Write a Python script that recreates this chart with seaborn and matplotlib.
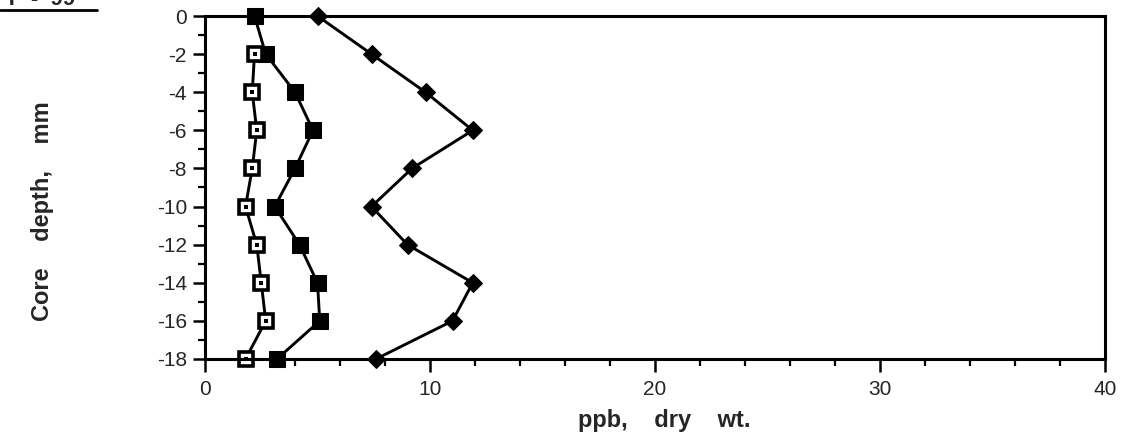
import numpy as np
import pandas as pd
import matplotlib
matplotlib.use("Agg")
import matplotlib.pyplot as plt
from matplotlib.ticker import MultipleLocator
import seaborn as sns

# Core depth (mm) and concentrations (ppb, dry wt.)
depth = [0, -2, -4, -6, -8, -10, -12, -14, -16, -18]
depth_open = [-2, -4, -6, -8, -10, -12, -14, -16, -18]
open_sq = [2.2, 2.1, 2.3, 2.1, 1.8, 2.3, 2.5, 2.7, 1.8]
filled_sq = [2.2, 2.7, 4.0, 4.8, 4.0, 3.1, 4.2, 5.0, 5.1, 3.2]
diamond = [5.0, 7.4, 9.8, 11.9, 9.2, 7.4, 9.0, 11.9, 11.0, 7.6]

sns.set_style("white")
plt.rcParams['font.family'] = ['Liberation Sans', 'DejaVu Sans']
plt.rcParams['axes.unicode_minus'] = False

fig = plt.figure(figsize=(11.31, 4.38), dpi=100)
ax = fig.add_axes([205 / 1131, 1 - 359 / 438, 900 / 1131, 343 / 438])

lw = 2.1
sns.lineplot(x=diamond, y=depth, orient="y", sort=False, color="black",
             lw=lw, marker="D", markersize=9.5, markeredgecolor="black", ax=ax)
sns.lineplot(x=filled_sq, y=depth, orient="y", sort=False, color="black",
             lw=lw, marker="s", markersize=11, markeredgecolor="black", ax=ax)
sns.lineplot(x=open_sq, y=depth_open, orient="y", sort=False, color="black",
             lw=lw, marker="s", markersize=10, markerfacecolor="white",
             markeredgecolor="black", markeredgewidth=2.6, ax=ax)
# little dot inside the open squares
sns.scatterplot(x=open_sq, y=depth_open, marker="s", s=5, color="black",
                linewidth=0, ax=ax, zorder=5)

ax.set_xlim(0, 40)
ax.set_ylim(-18, 0)
ax.xaxis.set_major_locator(MultipleLocator(10))
ax.xaxis.set_minor_locator(MultipleLocator(2))
ax.yaxis.set_major_locator(MultipleLocator(2))
ax.yaxis.set_minor_locator(MultipleLocator(1))
ax.tick_params(which="major", direction="out", length=9, width=1.8,
               labelsize=15, color="black", pad=4)
ax.tick_params(axis="x", which="major", pad=6)
ax.tick_params(which="minor", direction="out", length=5, width=1.6, color="black")
ax.tick_params(axis="x", which="both", bottom=True)
ax.tick_params(axis="y", which="both", left=True)
for sp in ax.spines.values():
    sp.set_linewidth(2.2)
    sp.set_color("black")
    sp.set_visible(True)

ax.set_xlabel("ppb,    dry    wt.", fontsize=17, fontweight="bold")
ax.set_ylabel("Core    depth,    mm", fontsize=17, fontweight="bold")
ax.xaxis.set_label_coords(0.51, -0.145)
ax.yaxis.set_label_coords(-0.168, 0.43)
for line in ax.lines:
    line.set_clip_on(False)
for coll in ax.collections:
    coll.set_clip_on(False)

# cropped heading at the top-left corner
fig.text(0.004, 1 - 5 / 438, "T  -  99", fontsize=16, fontweight="bold",
         va="baseline", ha="left")
fig.add_artist(plt.Line2D([0, 97 / 1131], [1 - 10 / 438, 1 - 10 / 438],
                          color="black", lw=2))

fig.savefig("out.png", dpi=100)
